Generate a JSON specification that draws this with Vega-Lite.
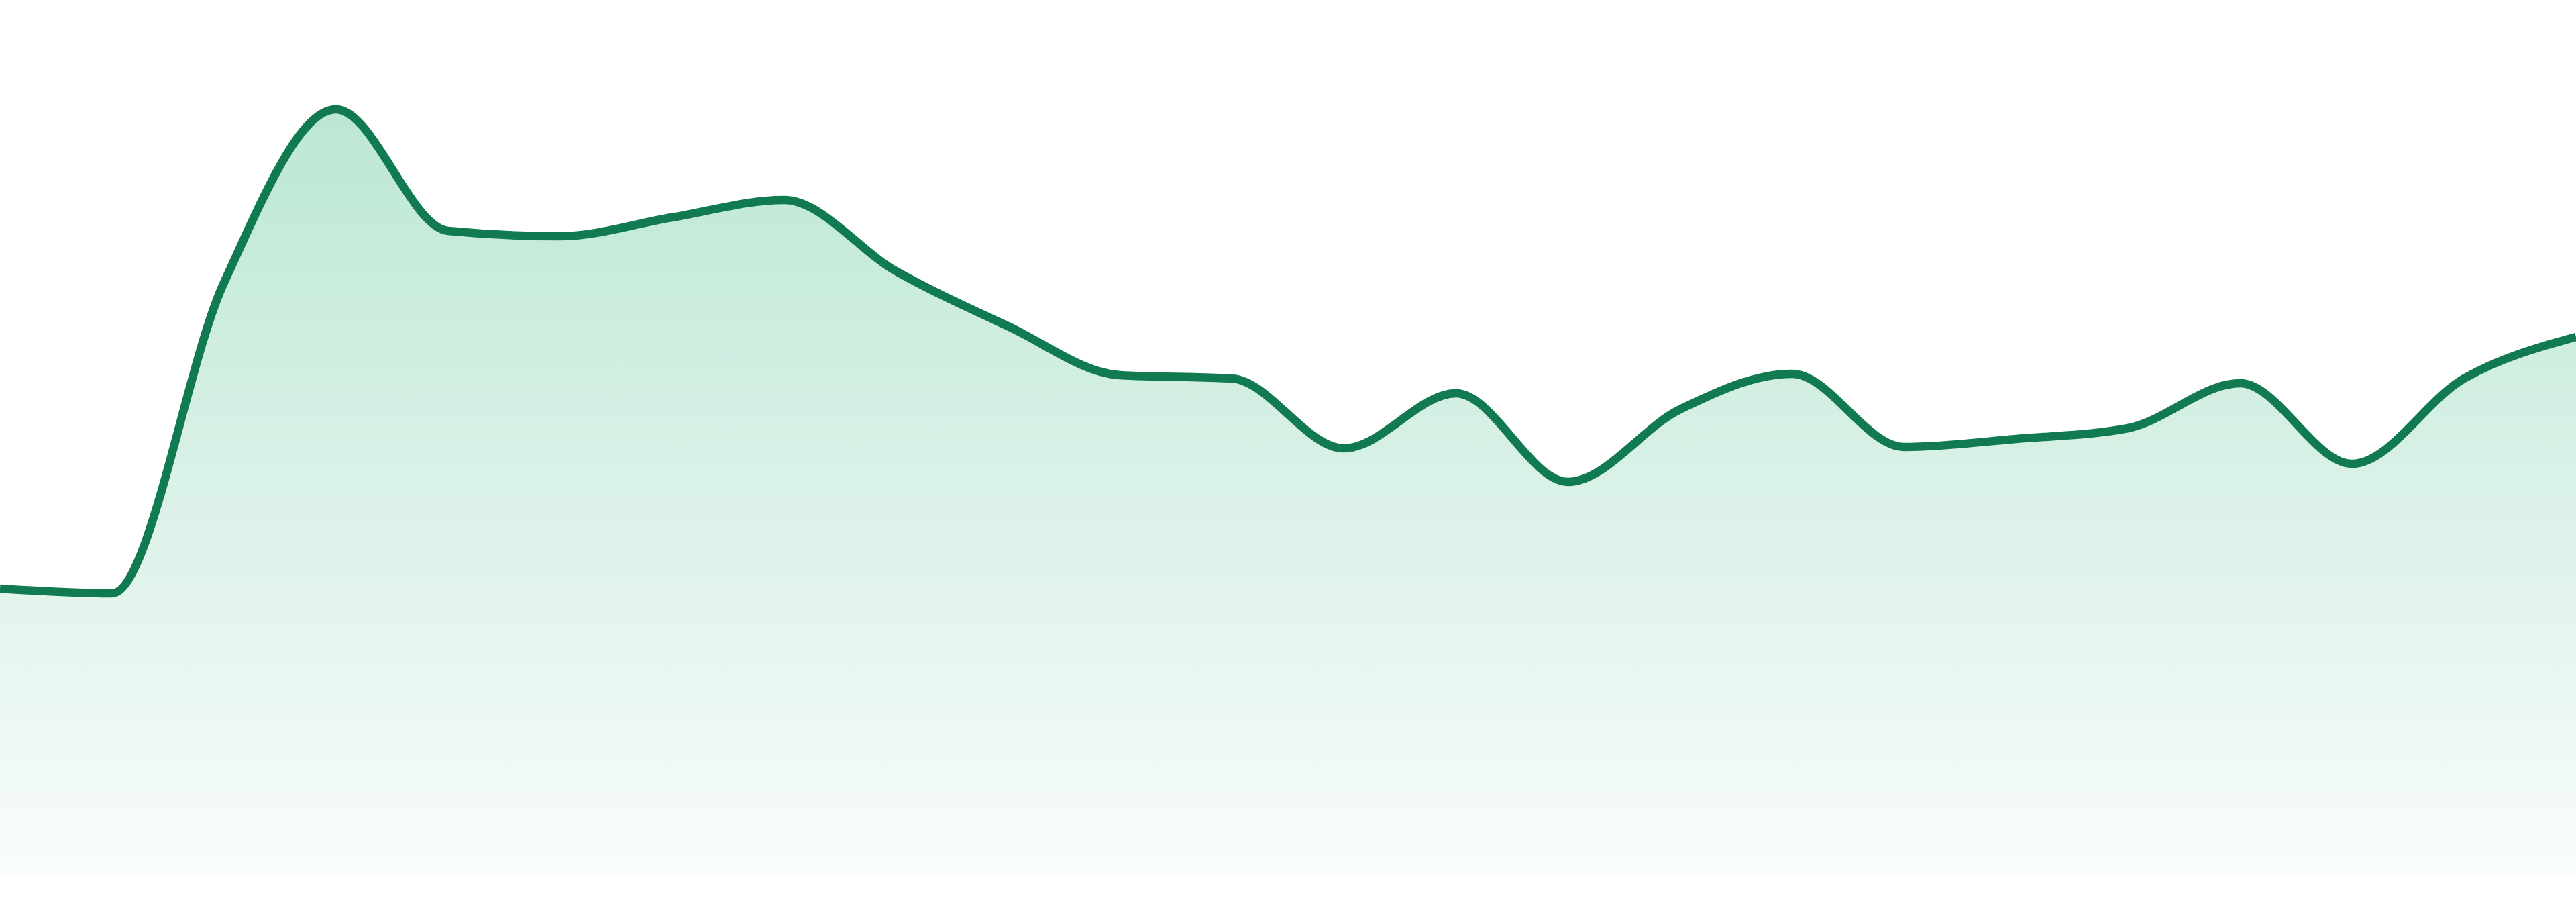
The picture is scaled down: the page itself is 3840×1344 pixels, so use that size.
{
  "$schema": "https://vega.github.io/schema/vega-lite/v6.json",
  "width": 3840,
  "height": 1305,
  "padding": 0,
  "autosize": {"type": "none"},
  "background": "white",
  "config": {"view": {"stroke": null}},
  "data": {
    "values": [
      {"i": 0, "v": 428},
      {"i": 1, "v": 421},
      {"i": 2, "v": 884},
      {"i": 3, "v": 1142},
      {"i": 4, "v": 961},
      {"i": 5, "v": 953},
      {"i": 6, "v": 981},
      {"i": 7, "v": 1007},
      {"i": 8, "v": 901},
      {"i": 9, "v": 819},
      {"i": 10, "v": 746},
      {"i": 11, "v": 741},
      {"i": 12, "v": 637},
      {"i": 13, "v": 719},
      {"i": 14, "v": 587},
      {"i": 15, "v": 695},
      {"i": 16, "v": 748},
      {"i": 17, "v": 639},
      {"i": 18, "v": 651},
      {"i": 19, "v": 667},
      {"i": 20, "v": 734},
      {"i": 21, "v": 614},
      {"i": 22, "v": 741},
      {"i": 23, "v": 803}
    ]
  },
  "encoding": {
    "x": {
      "field": "i",
      "type": "quantitative",
      "scale": {"domain": [0, 23], "nice": false},
      "axis": null
    },
    "y": {
      "field": "v",
      "type": "quantitative",
      "scale": {"domain": [0, 1305], "nice": false},
      "axis": null
    }
  },
  "layer": [
    {
      "mark": {
        "type": "area",
        "interpolate": "monotone",
        "color": {
          "gradient": "linear",
          "x1": 0, "y1": 0, "x2": 0, "y2": 1,
          "stops": [
            {"offset": 0, "color": "#bce7d4"},
            {"offset": 1, "color": "#f9fcfb"}
          ]
        }
      }
    },
    {
      "mark": {
        "type": "line",
        "interpolate": "monotone",
        "stroke": "#117a51",
        "strokeWidth": 12.5
      }
    }
  ]
}
